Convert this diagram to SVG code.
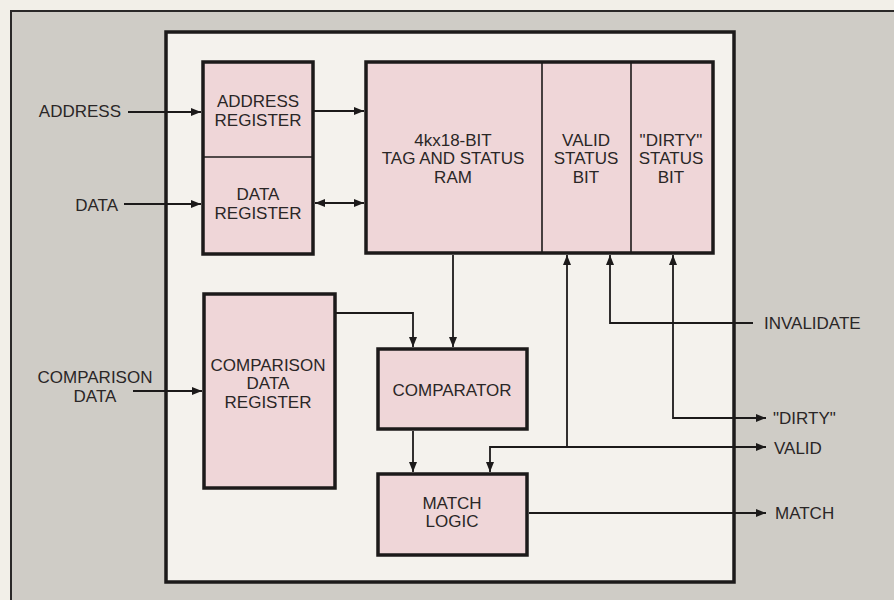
<svg xmlns="http://www.w3.org/2000/svg" width="894" height="600" viewBox="0 0 894 600">
<style>
.box{fill:#efd6d8;stroke:#1c1a1a;stroke-width:3.5}
.div{stroke:#1c1a1a;stroke-width:1.6;fill:none}
.t{font-family:"Liberation Sans",Arial,sans-serif;font-size:17px;fill:#2a2626}
.c{text-anchor:middle}
.e{text-anchor:end}
.ln{fill:none;stroke:#1c1a1a;stroke-width:1.8}
</style>
<defs>
<marker id="ah" viewBox="0 0 10 8" refX="10" refY="4" markerWidth="10" markerHeight="8" markerUnits="userSpaceOnUse" orient="auto-start-reverse">
<path d="M0,0 L10,4 L0,8 Z" fill="#1c1a1a"/>
</marker>
</defs>
<rect x="0" y="0" width="894" height="600" fill="#f2efe8"/>
<rect x="11" y="11" width="884" height="592" fill="#cfccc6" stroke="#2a2828" stroke-width="2"/>
<rect id="frame" x="166" y="32" width="568" height="550" fill="#f4f2ed" stroke="#1c1a1a" stroke-width="3.5"/>

<g id="addr-data-reg">
<rect class="box" x="203" y="62" width="110" height="192"/>
<line class="div" x1="203" y1="157" x2="313" y2="157"/>
<text class="t c" x="258" y="107">ADDRESS</text>
<text class="t c" x="258" y="126">REGISTER</text>
<text class="t c" x="258" y="200">DATA</text>
<text class="t c" x="258" y="219">REGISTER</text>
</g>

<g id="ram">
<rect class="box" x="366" y="62" width="347" height="191"/>
<line class="div" x1="542" y1="62" x2="542" y2="253"/>
<line class="div" x1="631" y1="62" x2="631" y2="253"/>
<text class="t c" x="453" y="146">4kx18-BIT</text>
<text class="t c" x="453" y="164">TAG AND STATUS</text>
<text class="t c" x="453" y="183">RAM</text>
<text class="t c" x="586" y="146">VALID</text>
<text class="t c" x="586" y="164">STATUS</text>
<text class="t c" x="586" y="183">BIT</text>
<text class="t c" x="671" y="146">"DIRTY"</text>
<text class="t c" x="671" y="164">STATUS</text>
<text class="t c" x="671" y="183">BIT</text>
</g>

<g id="comparison-reg">
<rect class="box" x="204" y="294" width="131" height="194"/>
<text class="t c" x="268" y="371">COMPARISON</text>
<text class="t c" x="268" y="389">DATA</text>
<text class="t c" x="268" y="408">REGISTER</text>
</g>

<g id="comparator">
<rect class="box" x="378" y="349" width="149" height="80"/>
<text class="t c" x="452" y="396">COMPARATOR</text>
</g>

<g id="match-logic">
<rect class="box" x="378" y="474" width="149" height="81"/>
<text class="t c" x="452" y="509">MATCH</text>
<text class="t c" x="452" y="527">LOGIC</text>
</g>

<g id="labels">
<text class="t e" x="121" y="117">ADDRESS</text>
<text class="t e" x="118" y="211">DATA</text>
<text class="t c" x="95" y="383">COMPARISON</text>
<text class="t c" x="95" y="402">DATA</text>
<text class="t" x="764" y="329">INVALIDATE</text>
<text class="t" x="773" y="424">"DIRTY"</text>
<text class="t" x="774" y="454">VALID</text>
<text class="t" x="775" y="519">MATCH</text>
</g>

<g id="connectors">
<path class="ln" d="M128,112 H201" marker-end="url(#ah)"/>
<path class="ln" d="M314,111 H364" marker-end="url(#ah)"/>
<path class="ln" d="M124,204 H201" marker-end="url(#ah)"/>
<path class="ln" d="M315,203 H364" marker-start="url(#ah)" marker-end="url(#ah)"/>
<path class="ln" d="M133,391 H202" marker-end="url(#ah)"/>
<path class="ln" d="M453,255 V347" marker-end="url(#ah)"/>
<path class="ln" d="M336,313 H413 V347" marker-end="url(#ah)"/>
<path class="ln" d="M413,431 V472" marker-end="url(#ah)"/>
<path class="ln" d="M567,447 H766" marker-end="url(#ah)"/>
<path class="ln" d="M567,447 H490 V472" marker-end="url(#ah)"/>
<path class="ln" d="M567,447 V255" marker-end="url(#ah)"/>
<path class="ln" d="M753,323 H610 V255" marker-end="url(#ah)"/>
<path class="ln" d="M673,255 V418 H766" marker-start="url(#ah)" marker-end="url(#ah)"/>
<path class="ln" d="M529,513 H766" marker-end="url(#ah)"/>
</g>
</svg>
